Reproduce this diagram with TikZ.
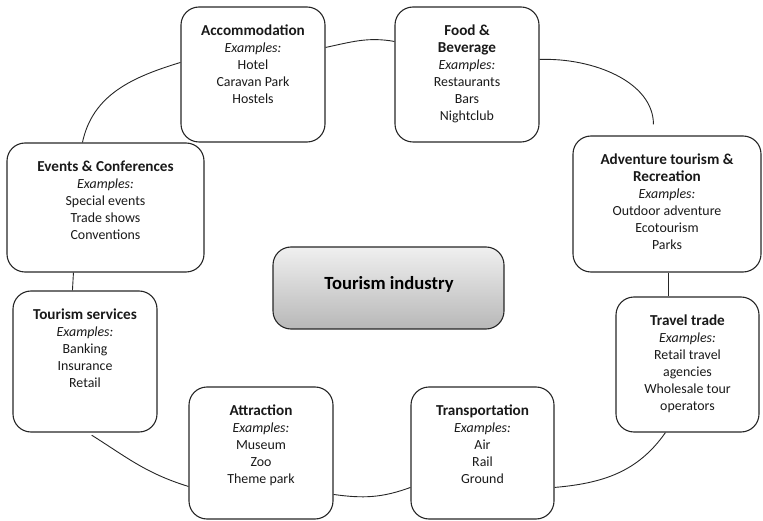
\documentclass[tikz,border=0pt]{standalone}
\usepackage{fontspec}
\setmainfont{Carlito}
\usetikzlibrary{calc}
\newcommand\cardtitle[1]{{\fontsize{15.2}{17}\selectfont\bfseries #1}}
\begin{document}
\begin{tikzpicture}[x=1pt,y=-1pt,
  card/.style={draw=black!85, line width=1.1pt, rounded corners=18pt, inner sep=0pt},
  cardtext/.style={anchor=north, inner sep=0pt, align=center, yshift=-18.5pt,
    font=\fontsize{13.9}{17}\selectfont, text=black!90},
  link/.style={draw=black!85, line width=0.9pt}]
\useasboundingbox (0,0) rectangle (763,521);
% boxes
\node[card, minimum width=144pt, minimum height=135pt] (acc) at (253,74.5) {};
\node[card, minimum width=144pt, minimum height=135pt] (food) at (467,74.5) {};
\node[card, minimum width=197pt, minimum height=129pt] (ev) at (105.5,207.5) {};
\node[card, minimum width=188pt, minimum height=136pt] (adv) at (667,204) {};
\node[card, minimum width=144pt, minimum height=141pt] (srv) at (85,361.5) {};
\node[card, minimum width=143pt, minimum height=135pt] (trd) at (687.5,364.5) {};
\node[card, minimum width=144pt, minimum height=132pt] (att) at (261,453) {};
\node[card, minimum width=143pt, minimum height=132pt] (trn) at (482.5,453) {};
\node[card, minimum width=231pt, minimum height=82pt, top color=black!6, bottom color=black!28] (ind) at (388.5,288) {};
\node[inner sep=0pt, font=\fontsize{18.6}{20}\selectfont\bfseries] (indt) at (389,284) {Tourism industry};
% texts
\node[cardtext] (acct) at (acc.north) {\cardtitle{Accommodation}\\\textit{Examples:}\\Hotel\\Caravan Park\\Hostels};
\node[cardtext] (foodt) at (food.north) {\cardtitle{Food \&}\\\cardtitle{Beverage}\\\textit{Examples:}\\Restaurants\\Bars\\Nightclub};
\node[cardtext] (evt) at (ev.north) {\cardtitle{Events \& Conferences}\\\textit{Examples:}\\Special events\\Trade shows\\Conventions};
\node[cardtext] (advt) at (adv.north) {\cardtitle{Adventure tourism \&}\\\cardtitle{Recreation}\\\textit{Examples:}\\Outdoor adventure\\Ecotourism\\Parks};
\node[cardtext] (srvt) at (srv.north) {\cardtitle{Tourism services}\\\textit{Examples:}\\Banking\\Insurance\\Retail};
\node[cardtext] (trdt) at (trd.north) {\cardtitle{Travel trade}\\\textit{Examples:}\\Retail travel\\agencies\\Wholesale tour\\operators};
\node[cardtext] (attt) at (att.north) {\cardtitle{Attraction}\\\textit{Examples:}\\Museum\\Zoo\\Theme park};
\node[cardtext] (trnt) at (trn.north) {\cardtitle{Transportation}\\\textit{Examples:}\\Air\\Rail\\Ground};
% connectors
\draw[link] ($(ev.north west)+(76,0)$) to[out=78, in=197] ($(acc.north west)+(0,56)$);
\draw[link] ($(acc.north east)+(0,41)$) to[out=12, in=170] ($(food.north west)+(0,35)$);
\draw[link, shorten >=11pt] ($(food.north east)+(0,53)$) to[out=2, in=90] ($(adv.north west)+(81,0)$);
\draw[link] ($(ev.south west)+(67,0)$) -- ($(srv.north west)+(60,0)$);
\draw[link] ($(adv.south west)+(96,0)$) -- ($(trd.north west)+(53,0)$);
\draw[link, shorten <=5pt] ($(srv.south west)+(75,0)$) to[out=-32, in=163] ($(att.north west)+(0,100)$);
\draw[link] ($(att.north east)+(0,108)$) to[out=-8, in=200] ($(trn.north west)+(0,101)$);
\draw[link] ($(trn.north east)+(0,101)$) to[out=5, in=235] ($(trd.south west)+(50,0)$);
\end{tikzpicture}
\end{document}
